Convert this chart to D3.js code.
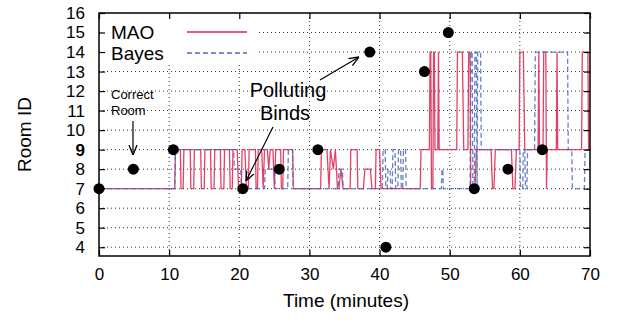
<!DOCTYPE html>
<html lang="en">
<head>
    <meta charset="UTF-8">
    <title>Room ID over time</title>
    <script src="https://cdn.jsdelivr.net/npm/d3@7/dist/d3.min.js"></script>
    <style>
        body { margin: 0; background: #fff; }
        text { font-family: "Liberation Sans", Arial, sans-serif; fill: #000; }
    </style>
</head>
<body>
<script>
    // data
    const xTicks = [0, 10, 20, 30, 40, 50, 60, 70];
    const yTicks = [4, 5, 6, 7, 8, 9, 10, 11, 12, 13, 14, 15, 16];

    // correct room (black dots)
    const correctTime = [0, 4.9, 10.6, 20.5, 25.7, 31.2, 38.6, 40.9, 46.4, 49.8, 53.5, 58.3, 63.2];
    const correctRoom = [7, 8, 9, 7, 8, 9, 14, 4, 13, 15, 7, 8, 9];

    // MAO estimate
    const maoTime = [0, 10.8, 10.9, 11.6, 11.7, 12.0, 12.1, 13.0, 13.1, 13.5, 13.6, 14.5, 14.6, 15.0, 15.1,
        15.9, 16.0, 16.4, 16.5, 17.3, 17.4, 17.8, 17.9, 18.6, 18.7, 19.0, 19.1, 19.7, 19.9, 20.3, 20.4,
        20.8, 21.0, 21.3, 21.4, 22.3, 22.4, 22.6, 22.7, 23.2, 23.4, 23.6, 24.0, 24.2, 24.4, 24.8, 25.0, 25.2,
        25.9, 26.0, 26.2, 26.3, 27.6, 27.7, 31.6, 31.7, 32.5, 32.8, 33.0, 33.4, 33.7, 34.0, 34.2, 34.5, 34.8,
        35.8, 35.9, 36.8, 36.9, 37.7, 37.9, 38.7, 38.9, 39.4, 39.5, 40.0, 40.2, 45.8, 45.9, 47.1, 47.2, 47.3,
        47.4, 47.6, 47.7, 47.8, 47.9, 48.3, 48.4, 48.5, 51.0, 51.1, 51.8, 52.0, 52.6, 52.7, 52.9, 53.0, 53.6,
        53.8, 55.9, 56.1, 56.3, 56.5, 58.8, 59.0, 59.3, 59.5, 59.9, 60.0, 60.5, 60.7, 62.6, 62.7, 62.8, 63.3,
        63.4, 63.7, 63.8, 63.9, 65.2, 65.3, 65.4, 68.8, 68.9, 69.7, 69.8, 70];
    const maoRoom = [7, 7, 9, 9, 7, 7, 9, 9, 7, 7, 9, 9, 7, 7, 9,
        9, 7, 7, 9, 9, 7, 7, 9, 9, 7, 7, 9, 9, 7, 7, 9,
        9, 7, 7, 9, 9, 7, 7, 9, 9, 7, 9, 9, 8, 9, 9, 7, 9,
        9, 7, 7, 9, 9, 7, 7, 9, 9, 7, 9, 8, 9, 7, 7, 8, 7,
        7, 9, 9, 7, 7, 8, 8, 7, 7, 9, 9, 7, 7, 9, 9, 14, 14,
        7, 7, 14, 14, 9, 9, 14, 9, 9, 14, 14, 9, 9, 14, 14, 7, 7,
        9, 9, 7, 7, 9, 9, 7, 7, 9, 9, 14, 14, 9, 9, 14, 9, 9,
        14, 14, 7, 9, 9, 14, 9, 9, 14, 14, 9, 9];

    // Bayes estimate
    const bayesTime = [0, 10.8, 10.9, 19.2, 19.3, 20.2, 20.3, 23.6, 23.7, 25.0, 25.1, 26.9, 27.0, 27.6, 27.7,
        34.1, 34.2, 34.7, 34.8, 40.4, 40.5, 40.8, 40.9, 41.1, 41.2, 41.5, 41.6, 41.8, 41.9, 42.2, 42.3,
        42.6, 42.7, 43.0, 43.1, 43.3, 43.4, 43.7, 43.8, 48.8, 48.9, 49.0, 49.1, 52.9, 53.0, 53.2, 53.3,
        53.5, 53.6, 53.8, 53.9, 54.0, 54.4, 54.5, 60.0, 60.1, 60.4, 60.5, 60.7, 60.8, 61.0, 61.1, 62.1,
        62.2, 66.8, 66.9, 67.4, 67.5, 69.2, 69.3, 70];
    const bayesRoom = [7, 7, 9, 9, 8, 8, 7, 7, 8, 8, 7, 7, 9, 9, 7,
        7, 8, 8, 7, 7, 9, 9, 7, 7, 8, 8, 7, 7, 9, 9, 7,
        7, 9, 9, 7, 7, 9, 9, 7, 7, 8, 8, 7, 7, 14, 14, 7,
        7, 14, 14, 7, 14, 14, 9, 9, 7, 7, 9, 9, 7, 7, 9, 9,
        14, 14, 9, 9, 7, 7, 9, 9];

    const width = 620;
    const height = 327;

    let svg = d3.select('body')
        .append('svg')
        .attr('width', width)
        .attr('height', height);

    let x = d3.scaleLinear().domain([0, 70]).range([99, 590]);
    let y = d3.scaleLinear().domain([3.55, 16]).range([256, 13]);

    const plotLeft = x(0), plotRight = x(70), plotTop = y(16), plotBottom = y(3.55);

    // dotted grid
    svg.append('g')
        .selectAll('line')
        .data(xTicks.slice(1, -1))
        .enter()
        .append('line')
        .attr('x1', d => x(d)).attr('x2', d => x(d))
        .attr('y1', plotTop).attr('y2', plotBottom)
        .attr('stroke', '#333')
        .attr('stroke-width', 1)
        .attr('stroke-dasharray', '1,3');

    svg.append('g')
        .selectAll('line')
        .data(yTicks.slice(0, -1))
        .enter()
        .append('line')
        .attr('x1', plotLeft).attr('x2', plotRight)
        .attr('y1', d => y(d)).attr('y2', d => y(d))
        .attr('stroke', '#333')
        .attr('stroke-width', 1)
        .attr('stroke-dasharray', '1,3');

    // legend background hides grid
    svg.append('rect')
        .attr('x', plotLeft + 1).attr('y', plotTop + 1)
        .attr('width', 158).attr('height', 48)
        .attr('fill', '#fff');

    // series lines
    let line = d3.line()
        .x(d => x(d[0]))
        .y(d => y(d[1]));

    const maoData = maoTime.map((t, i) => [t, maoRoom[i]]);
    const bayesData = bayesTime.map((t, i) => [t, bayesRoom[i]]);

    svg.append('path')
        .attr('d', line(maoData))
        .attr('fill', 'none')
        .attr('stroke', '#e0204c')
        .attr('stroke-opacity', 0.85)
        .attr('stroke-width', 1.3);

    svg.append('path')
        .attr('d', line(bayesData))
        .attr('fill', 'none')
        .attr('stroke', '#4a6ac0')
        .attr('stroke-opacity', 0.85)
        .attr('stroke-width', 1.3)
        .attr('stroke-dasharray', '5,3');

    // correct room dots
    svg.append('g')
        .selectAll('circle')
        .data(correctTime)
        .enter()
        .append('circle')
        .attr('cx', d => x(d))
        .attr('cy', (d, i) => y(correctRoom[i]))
        .attr('r', 5.5)
        .attr('fill', '#000');

    // frame
    svg.append('rect')
        .attr('x', plotLeft).attr('y', plotTop)
        .attr('width', plotRight - plotLeft).attr('height', plotBottom - plotTop)
        .attr('fill', 'none')
        .attr('stroke', '#000')
        .attr('stroke-width', 1.5);

    // inward ticks on all sides
    let bottomAxis = d3.axisBottom(x).tickValues(xTicks).tickSizeInner(-6).tickSizeOuter(0).tickPadding(12);
    let gx = svg.append('g').attr('transform', `translate(0,${plotBottom})`).call(bottomAxis);
    gx.select('.domain').remove();
    gx.selectAll('text').style('font-size', '17px').attr('font-family', null);

    let topAxis = d3.axisTop(x).tickValues(xTicks).tickSizeInner(-6).tickSizeOuter(0).tickFormat('');
    let gt = svg.append('g').attr('transform', `translate(0,${plotTop})`).call(topAxis);
    gt.select('.domain').remove();

    let leftAxis = d3.axisLeft(y).tickValues(yTicks).tickSizeInner(-6).tickSizeOuter(0).tickPadding(14);
    let gy = svg.append('g').attr('transform', `translate(${plotLeft},0)`).call(leftAxis);
    gy.select('.domain').remove();
    gy.selectAll('text')
        .style('font-size', '17px')
        .style('font-weight', d => d === 9 ? 'bold' : 'normal')
        .attr('font-family', null);

    let rightAxis = d3.axisRight(y).tickValues(yTicks).tickSizeInner(-6).tickSizeOuter(0).tickFormat('');
    let gr = svg.append('g').attr('transform', `translate(${plotRight},0)`).call(rightAxis);
    gr.select('.domain').remove();

    svg.selectAll('.tick line').attr('stroke', '#000').attr('stroke-width', 1.2);

    // axis titles
    svg.append('text')
        .attr('x', 346)
        .attr('y', 307)
        .attr('text-anchor', 'middle')
        .style('font-size', '19px')
        .text('Time (minutes)');

    svg.append('text')
        .attr('transform', `translate(31,${(plotTop + plotBottom) / 2}) rotate(-90)`)
        .attr('text-anchor', 'middle')
        .style('font-size', '19px')
        .text('Room ID');

    // legend
    const legend = [
        {name: 'MAO', color: '#e0204c', dash: null, ly: 32},
        {name: 'Bayes', color: '#4a6ac0', dash: '5,3', ly: 53}
    ];
    legend.forEach(l => {
        svg.append('text')
            .attr('x', 111)
            .attr('y', l.ly + 7)
            .style('font-size', '19px')
            .text(l.name);
        svg.append('line')
            .attr('x1', 187).attr('x2', 247)
            .attr('y1', l.ly).attr('y2', l.ly)
            .attr('stroke', l.color)
            .attr('stroke-width', 1.3)
            .attr('stroke-dasharray', l.dash);
    });

    // arrowhead
    svg.append('defs').append('marker')
        .attr('id', 'arrow')
        .attr('viewBox', '0 0 10 10')
        .attr('refX', 10).attr('refY', 5)
        .attr('markerWidth', 10).attr('markerHeight', 10)
        .attr('markerUnits', 'userSpaceOnUse')
        .attr('orient', 'auto')
        .append('path')
        .attr('d', 'M0,1 L10,5 L0,9')
        .attr('fill', 'none')
        .attr('stroke', '#000')
        .attr('stroke-width', 1.3);

    // annotations
    svg.append('text').attr('x', 111).attr('y', 99).style('font-size', '13px').text('Correct');
    svg.append('text').attr('x', 111).attr('y', 115).style('font-size', '13px').text('Room');
    svg.append('line')
        .attr('x1', 133).attr('y1', 121)
        .attr('x2', 133).attr('y2', 155)
        .attr('stroke', '#000').attr('stroke-width', 1.2)
        .attr('marker-end', 'url(#arrow)');

    svg.append('text').attr('x', 288).attr('y', 97).attr('text-anchor', 'middle')
        .style('font-size', '20px').text('Polluting');
    svg.append('text').attr('x', 285).attr('y', 120).attr('text-anchor', 'middle')
        .style('font-size', '20px').text('Binds');
    svg.append('line')
        .attr('x1', 273).attr('y1', 127)
        .attr('x2', 246).attr('y2', 181)
        .attr('stroke', '#000').attr('stroke-width', 1.2)
        .attr('marker-end', 'url(#arrow)');
    svg.append('line')
        .attr('x1', 320).attr('y1', 80)
        .attr('x2', 359).attr('y2', 57)
        .attr('stroke', '#000').attr('stroke-width', 1.2)
        .attr('marker-end', 'url(#arrow)');
</script>
</body>
</html>
